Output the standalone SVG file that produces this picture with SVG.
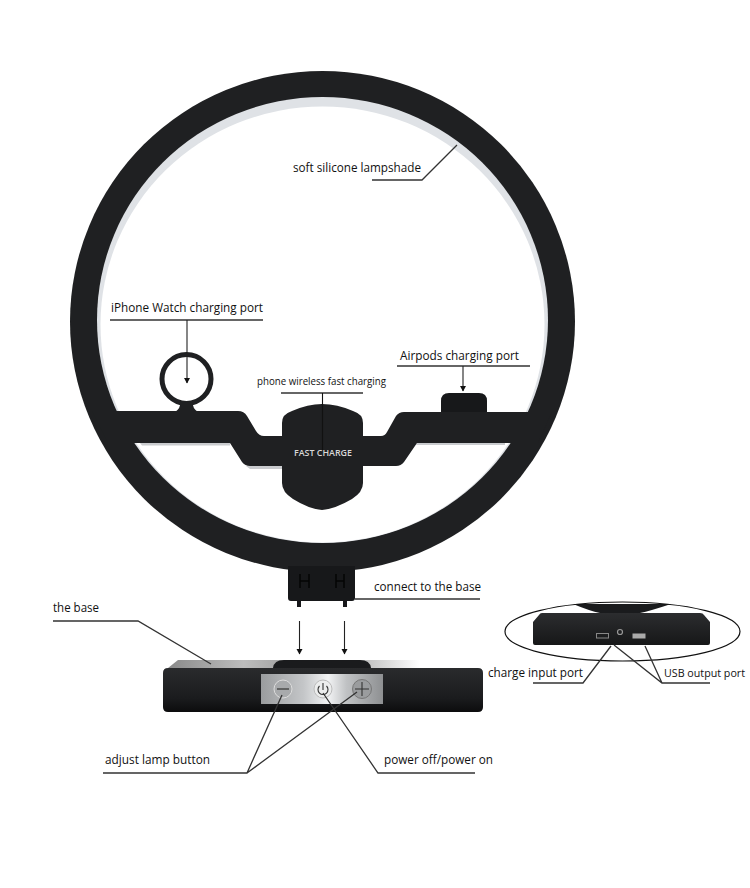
<svg xmlns="http://www.w3.org/2000/svg" width="750" height="888" viewBox="0 0 750 888">
<style>
text{font-family:"Open Sans","Noto Sans","Liberation Sans",sans-serif;fill:#111;font-size:12.5px}
.dark{fill:#1f2022}
.ln{fill:none;stroke:#222;stroke-width:1.1}
.ul{fill:none;stroke:#333;stroke-width:1.3}
.gl{fill:none;stroke:#333;stroke-width:1.1}
</style>
<defs>
<marker id="ah" markerWidth="6" markerHeight="7" refX="5" refY="3" orient="auto" markerUnits="userSpaceOnUse"><path d="M0,0 L5.500,3 L0,6 Z" fill="#111"/></marker>
<linearGradient id="panel" x1="0" y1="0" x2="1" y2="0"><stop offset="0" stop-color="#9a9c9e"/><stop offset=".35" stop-color="#c4c6c8"/><stop offset=".55" stop-color="#f2f3f4"/><stop offset=".7" stop-color="#c0c2c4"/><stop offset="1" stop-color="#8e9092"/></linearGradient>
<linearGradient id="topface" x1="0" y1="0" x2="1" y2="0"><stop offset="0" stop-color="#8a8a8a"/><stop offset=".3" stop-color="#bdbdbd"/><stop offset=".6" stop-color="#8d8d8d"/><stop offset="1" stop-color="#fff"/></linearGradient>
<linearGradient id="body" x1="0" y1="0" x2="0" y2="1"><stop offset="0" stop-color="#2a2b2d"/><stop offset=".7" stop-color="#1a1b1d"/><stop offset="1" stop-color="#0c0c0d"/></linearGradient>
<linearGradient id="inset" x1="0" y1="0" x2="0" y2="1"><stop offset="0" stop-color="#2c2d2f"/><stop offset="1" stop-color="#161718"/></linearGradient>
</defs>
<g id="lamp-ring">
<ellipse cx="322.500" cy="321.500" rx="252.500" ry="250.500" fill="#1f2022"/>
<ellipse cx="322.500" cy="320" rx="225.500" ry="223" fill="#dfe2e6"/>
<ellipse cx="322.500" cy="324.500" rx="222" ry="218" fill="#fff"/>
</g>
<g id="watch-port">
<circle cx="186.500" cy="379" r="24.500" fill="none" stroke="#1f2022" stroke-width="5"/>
<path d="M180,402 Q181,408 175,412 H198 Q192,408 193,402 Z" class="dark"/>
</g>
<g id="airpods-port">
<path d="M441,412 V401 Q441,393 449,393 H479 Q487,393 487,401 V412 Z" fill="#17181a"/>
</g>
<g id="crossbar">
<path d="M140,443 H230 V445.500 H142 Z M246,466 H363 V469 H250 Z M417,443 H505 V445 H416 Z" fill="#c9cbce"/>
<path d="M92,411 H238 Q244,411 247,416 L256,431 Q259,436 264,436 H282 V423 Q282,414 292,411 Q308,404 322,404 Q337,404 353,411 Q363,414 363,423 V436 H381 Q385,436 387,432 L396,416 Q399,412 404,412 H552 L538,443 H510 H417 L404,462 Q401,466 396,466 H363 V483 Q363,492 352,499 Q335,509 322,510 Q309,509 293,499 Q282,492 282,483 V466 H250 Q245,466 242,462 L230,443 H135 L108,443 Z" class="dark"/>
<text x="294" y="456" textLength="58" lengthAdjust="spacingAndGlyphs" style="fill:#d8d8d8;font-size:9.500px;font-weight:600">FAST CHARGE</text>
</g>
<g id="connector-plug">
<path d="M288,566 H355 V598 Q355,601 352,601 H347 V607 H343 V601 H301 V607 H297 V601 H291 Q288,601 288,598 Z" fill="#17181a"/>
<path d="M300,574 V588 M309,574 V588 M336,574 V588 M344,574 V588 M300,581 H309 M336,581 H344" fill="none" stroke="#050505" stroke-width="1.500"/>
</g>
<g id="base">
<path d="M168,668 L178,660 H420 V668 Z" fill="url(#topface)"/>
<path d="M168,668 H478 Q483,668 483,673 V707 Q483,712 478,712 H168 Q163,712 163,707 V673 Q163,668 168,668 Z" fill="url(#body)"/>
<path d="M273,668 Q274,660 284,660 H360 Q370,660 371,668 Z" fill="#1a1b1d"/>
<rect x="261" y="674" width="122" height="30" fill="url(#panel)"/>
<circle cx="283" cy="689" r="9" fill="#a8aaac" stroke="#ddd"/>
<path d="M277,689 H289" fill="none" stroke="#333" stroke-width="1.200"/>
<circle cx="323" cy="689" r="9" fill="#eceded" stroke="#bbb"/>
<path d="M319.500,686 A5,5 0 1 0 326.500,686 M323,683 V690" class="gl"/>
<circle cx="362" cy="689" r="9.500" fill="#9a9c9e" stroke="#777"/>
<path d="M355,689 H369 M362,682 V696" class="gl"/>
</g>
<g id="base-rear-inset">
<path d="M573,604 H671 Q650,611 640,613 L637,618 H602 L600,613 Q590,611 573,604 Z" fill="#1a1b1d"/>
<path d="M542,613 H700 Q703,613 704,615 L710,622 V643 Q710,645 708,645 H535 Q533,645 533,643 V622 L539,615 Q540,613 542,613 Z" fill="url(#inset)"/>
<rect x="596.500" y="633.500" width="12" height="4.500" fill="none" stroke="#888"/>
<circle cx="620" cy="632" r="2.500" fill="none" stroke="#999" stroke-width="1.200"/>
<rect x="632.500" y="633.500" width="13" height="5" fill="#aaa"/>
<ellipse cx="622.500" cy="631.500" rx="117.500" ry="29.500" fill="none" stroke="#111" stroke-width="1.200"/>
</g>
<g id="connectors">
<path class="ul" d="M372,180 H422 L457,145"/>
<path class="ul" d="M110,320 H263"/>
<path class="ln" d="M187,320 V383" marker-end="url(#ah)"/>
<path class="ul" d="M397,366 H530"/>
<path class="ln" d="M463,366 V391" marker-end="url(#ah)"/>
<path class="ul" d="M281,393 H363"/>
<path class="ln" d="M322.500,393 V450" style="stroke:#111"/>
<path class="ul" d="M355,599 H480"/>
<path class="ln" d="M299.500,621 V654" marker-end="url(#ah)"/>
<path class="ln" d="M344.500,621 V654" marker-end="url(#ah)"/>
<path class="ul" d="M53,621 H138 L211,664"/>
<path class="ul" d="M103,773 H247 L282,695 M247,773 L357,692"/>
<path class="ul" d="M475,773 H378 L323,693"/>
<path class="ul" d="M533,683 H583 L611,646"/>
<path class="ul" d="M710,683 H662 L614,645 M662,683 L645,646"/>
</g>
<g id="labels">
<text x="293" y="172" textLength="128" lengthAdjust="spacingAndGlyphs">soft silicone lampshade</text>
<text x="111" y="312" textLength="152" lengthAdjust="spacingAndGlyphs">iPhone Watch charging port</text>
<text x="400" y="360" textLength="119" lengthAdjust="spacingAndGlyphs">Airpods charging port</text>
<text x="257" y="385" textLength="129" lengthAdjust="spacingAndGlyphs" style="font-size:10.500px">phone wireless fast charging</text>
<text x="374" y="591" textLength="107" lengthAdjust="spacingAndGlyphs">connect to the base</text>
<text x="53" y="612" textLength="46" lengthAdjust="spacingAndGlyphs">the base</text>
<text x="488" y="677" textLength="95" lengthAdjust="spacingAndGlyphs">charge input port</text>
<text x="664" y="677" textLength="81" lengthAdjust="spacingAndGlyphs" style="font-size:11.500px">USB output port</text>
<text x="105" y="764" textLength="105" lengthAdjust="spacingAndGlyphs">adjust lamp button</text>
<text x="384" y="764" textLength="109" lengthAdjust="spacingAndGlyphs">power off/power on</text>
</g>
</svg>
